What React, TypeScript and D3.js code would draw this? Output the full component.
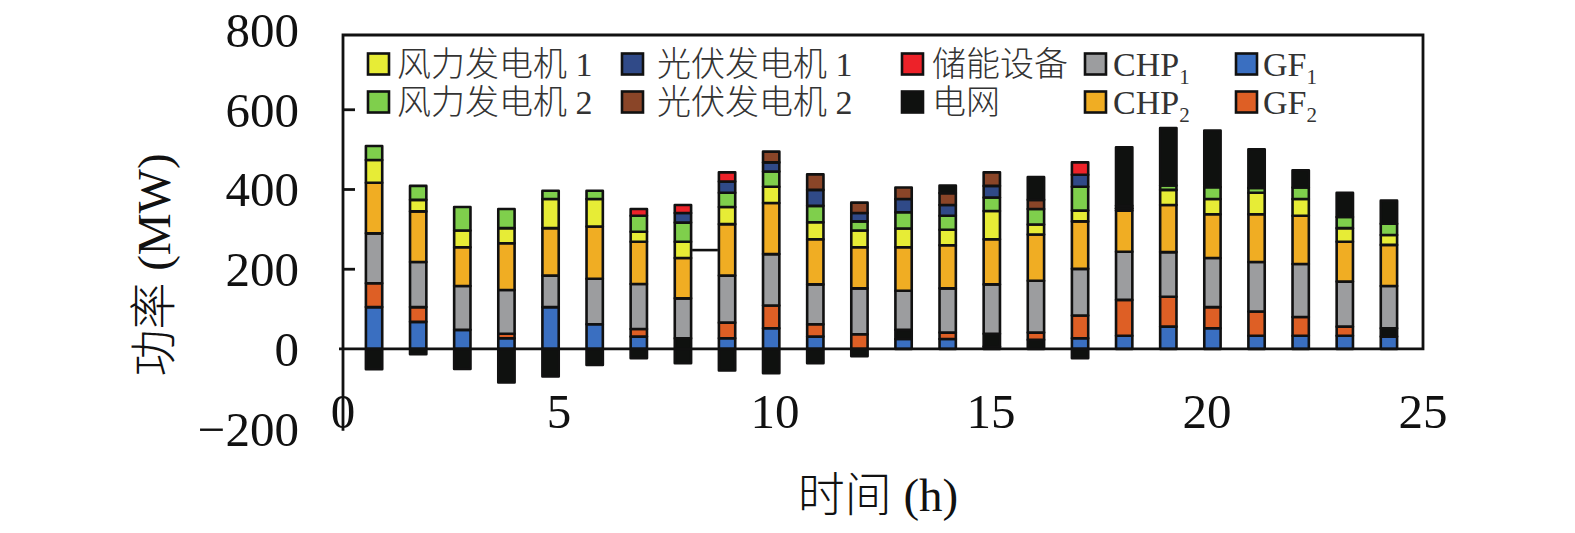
import { useEffect, useRef } from 'react';
import * as d3 from 'd3';

// hourly dispatch, MW
const hours = ['1', '2', '3', '4', '5', '6', '7', '8', '9', '10', '11', '12', '13', '14', '15', '16', '17', '18', '19', '20', '21', '22', '23', '24'];
const gf1 = [105, 68, 48, 27, 105, 62, 31, 0, 27, 52, 31, 0, 25, 25, 6, 0, 27, 33, 56, 52, 33, 33, 33, 31];
const gridLow = [0, 0, 0, 0, 0, 0, 0, 27, 0, 0, 0, 0, 23, 0, 32, 23, 0, 0, 0, 0, 0, 0, 0, 21];
const gf2 = [60, 37, 0, 11, 0, 0, 19, 0, 39, 57, 31, 37, 0, 16, 0, 18, 57, 90, 75, 53, 61, 47, 23, 0];
const chp1 = [125, 113, 110, 110, 79, 114, 113, 100, 118, 129, 100, 115, 98, 111, 124, 130, 117, 121, 112, 123, 124, 133, 113, 106];
const chp2 = [127, 127, 97, 117, 119, 131, 106, 101, 129, 128, 113, 103, 109, 108, 113, 116, 119, 103, 118, 110, 120, 121, 100, 103];
const wind1 = [57, 29, 42, 38, 73, 69, 25, 41, 43, 41, 43, 42, 47, 39, 71, 25, 27, 6, 38, 38, 54, 42, 34, 25];
const wind2 = [35, 35, 59, 48, 21, 21, 40, 48, 36, 38, 41, 23, 41, 35, 34, 39, 60, 6, 11, 30, 12, 29, 28, 28];
const pv1 = [0, 0, 0, 0, 0, 0, 0, 24, 28, 23, 40, 21, 33, 27, 29, 0, 30, 0, 0, 0, 0, 0, 0, 0];
const pv2 = [0, 0, 0, 0, 0, 0, 0, 0, 0, 27, 39, 26, 29, 30, 34, 23, 0, 0, 0, 0, 0, 0, 0, 0];
const storage = [0, 0, 0, 0, 0, 0, 17, 20, 23, 0, 0, 0, 0, 0, 0, 0, 31, 0, 0, 0, 0, 0, 0, 0];
const gridHigh = [0, 0, 0, 0, 0, 0, 0, 0, 0, 0, 0, 0, 0, 19, 0, 57, 0, 147, 144, 142, 97, 43, 61, 58];
const gridNeg = [-51, -13, -50, -84, -69, -40, -23, -36, -54, -61, -36, -18, 0, 0, 0, 0, -23, 0, 0, 0, 0, 0, 0, 0];

// the short stray segment between hour 8 and hour 9
const strayLineValue = 248;

const yTicks = [800, 600, 400, 200, 0, -200];
const xTicks = [0, 5, 10, 15, 20, 25];

const C = {
  gf1: '#3a6fc1',
  gf2: '#de5f25',
  grid: '#0f110f',
  chp1: '#9c9d9f',
  chp2: '#f0ad23',
  wind1: '#e7ec36',
  wind2: '#7fcf4c',
  pv1: '#304a88',
  pv2: '#8a4528',
  storage: '#ed2229',
};

// bottom -> top
const stackOrder: { values: number[]; color: string }[] = [
  { values: gf1, color: C.gf1 },
  { values: gridLow, color: C.grid },
  { values: gf2, color: C.gf2 },
  { values: chp1, color: C.chp1 },
  { values: chp2, color: C.chp2 },
  { values: wind1, color: C.wind1 },
  { values: wind2, color: C.wind2 },
  { values: pv1, color: C.pv1 },
  { values: pv2, color: C.pv2 },
  { values: storage, color: C.storage },
  { values: gridHigh, color: C.grid },
];

// legend, row by row
const legendRows = [
  [
    { text: '风力发电机 1', color: C.wind1 },
    { text: '光伏发电机 1', color: C.pv1 },
    { text: '储能设备', color: C.storage },
    { text: 'CHP', sub: '1', color: C.chp1 },
    { text: 'GF', sub: '1', color: C.gf1 },
  ],
  [
    { text: '风力发电机 2', color: C.wind2 },
    { text: '光伏发电机 2', color: C.pv2 },
    { text: '电网', color: C.grid },
    { text: 'CHP', sub: '2', color: C.chp2 },
    { text: 'GF', sub: '2', color: C.gf2 },
  ],
];

const FONT = '"Liberation Serif", "Times New Roman", "Noto Sans CJK SC", serif';

export default function App() {
  const svgRef = useRef<SVGSVGElement | null>(null);

  useEffect(() => {
    if (!svgRef.current) return;
    const svg = d3.select(svgRef.current);
    svg.selectAll('*').remove();

    const left = 343;
    const right = 1423;
    const top = 35;

    const y = d3.scaleLinear().domain([-200, 790]).range([428.7, 34]);
    const xLin = d3.scaleLinear().domain([0, 25]).range([left, right]);
    const xBand = d3.scaleBand<string>()
      .domain(hours)
      .range([352, 1411])
      .paddingInner(0.63)
      .paddingOuter(0.315);
    const bw = xBand.bandwidth();

    // stacked bars
    const bars = svg.append('g');
    hours.forEach((h, i) => {
      let base = 0;
      stackOrder.forEach(s => {
        const v = s.values[i];
        if (v <= 0) return;
        bars.append('rect')
          .attr('x', xBand(h)!)
          .attr('y', y(base + v))
          .attr('width', bw)
          .attr('height', y(base) - y(base + v))
          .attr('fill', s.color)
          .attr('stroke', '#111')
          .attr('stroke-width', 2.6)
          .attr('stroke-linejoin', 'round');
        base += v;
      });
      if (gridNeg[i] < 0) {
        bars.append('rect')
          .attr('x', xBand(h)!)
          .attr('y', y(0))
          .attr('width', bw)
          .attr('height', y(gridNeg[i]) - y(0))
          .attr('fill', C.grid)
          .attr('stroke', '#111')
          .attr('stroke-width', 2.6)
          .attr('stroke-linejoin', 'round');
      }
    });

    // stray segment
    svg.append('line')
      .attr('x1', xBand('8')! + bw + 1)
      .attr('x2', xBand('9')! - 1)
      .attr('y1', y(strayLineValue))
      .attr('y2', y(strayLineValue))
      .attr('stroke', '#111')
      .attr('stroke-width', 2.6);

    // frame + axes
    const axisColor = '#111';
    svg.append('path')
      .attr('d', `M${left},${y(-200) + 2}V${top}H${right}V${y(0)}H${left - 4}`)
      .attr('fill', 'none')
      .attr('stroke', axisColor)
      .attr('stroke-width', 2.8);

    svg.append('g')
      .selectAll('line')
      .data(yTicks.filter(t => t > 0 && t < 790))
      .join('line')
      .attr('x1', left)
      .attr('x2', left + 12)
      .attr('y1', d => y(d))
      .attr('y2', d => y(d))
      .attr('stroke', axisColor)
      .attr('stroke-width', 2.8);

    svg.append('g')
      .selectAll('text')
      .data(yTicks)
      .join('text')
      .attr('x', 299)
      .attr('y', d => y(d) + 17)
      .attr('text-anchor', 'end')
      .attr('font-family', FONT)
      .attr('font-size', 49)
      .attr('fill', '#111')
      .text(d => (d < 0 ? `\u2212${-d}` : `${d}`));

    svg.append('g')
      .selectAll('text')
      .data(xTicks)
      .join('text')
      .attr('x', d => xLin(d))
      .attr('y', 428)
      .attr('text-anchor', 'middle')
      .attr('font-family', FONT)
      .attr('font-size', 49)
      .attr('fill', '#111')
      .text(d => `${d}`);

    // axis titles
    svg.append('text')
      .attr('x', 878)
      .attr('y', 511)
      .attr('text-anchor', 'middle')
      .attr('font-family', FONT)
      .attr('font-size', 47)
      .attr('font-weight', 300)
      .attr('fill', '#111')
      .text('时间 (h)');

    svg.append('text')
      .attr('transform', 'translate(170,265) rotate(-90)')
      .attr('text-anchor', 'middle')
      .attr('font-family', FONT)
      .attr('font-size', 47)
      .attr('font-weight', 300)
      .attr('fill', '#111')
      .text('功率 (MW)');

    // legend
    const swatchX = [368, 622, 902, 1085, 1236];
    const textX = [397, 657, 932, 1113, 1263];
    const rowY = [64, 102];
    const legend = svg.append('g');
    legendRows.forEach((row, r) => {
      row.forEach((item, c) => {
        legend.append('rect')
          .attr('x', swatchX[c])
          .attr('y', rowY[r] - 10.5)
          .attr('width', 21)
          .attr('height', 21)
          .attr('fill', item.color)
          .attr('stroke', '#111')
          .attr('stroke-width', 2.6);
        const t = legend.append('text')
          .attr('x', textX[c])
          .attr('y', rowY[r] + 12)
          .attr('font-family', FONT)
          .attr('font-size', 34)
          .attr('font-weight', 300)
          .attr('fill', '#333');
        t.append('tspan').text(item.text);
        if (item.sub) {
          t.append('tspan')
            .attr('font-size', 21)
            .attr('dy', 8)
            .text(item.sub);
        }
      });
    });
  }, []);

  return (
    <svg
      ref={svgRef}
      width={1575}
      height={533}
      style={{ position: 'absolute', left: 0, top: 0, background: '#fff' }}
    />
  );
}
